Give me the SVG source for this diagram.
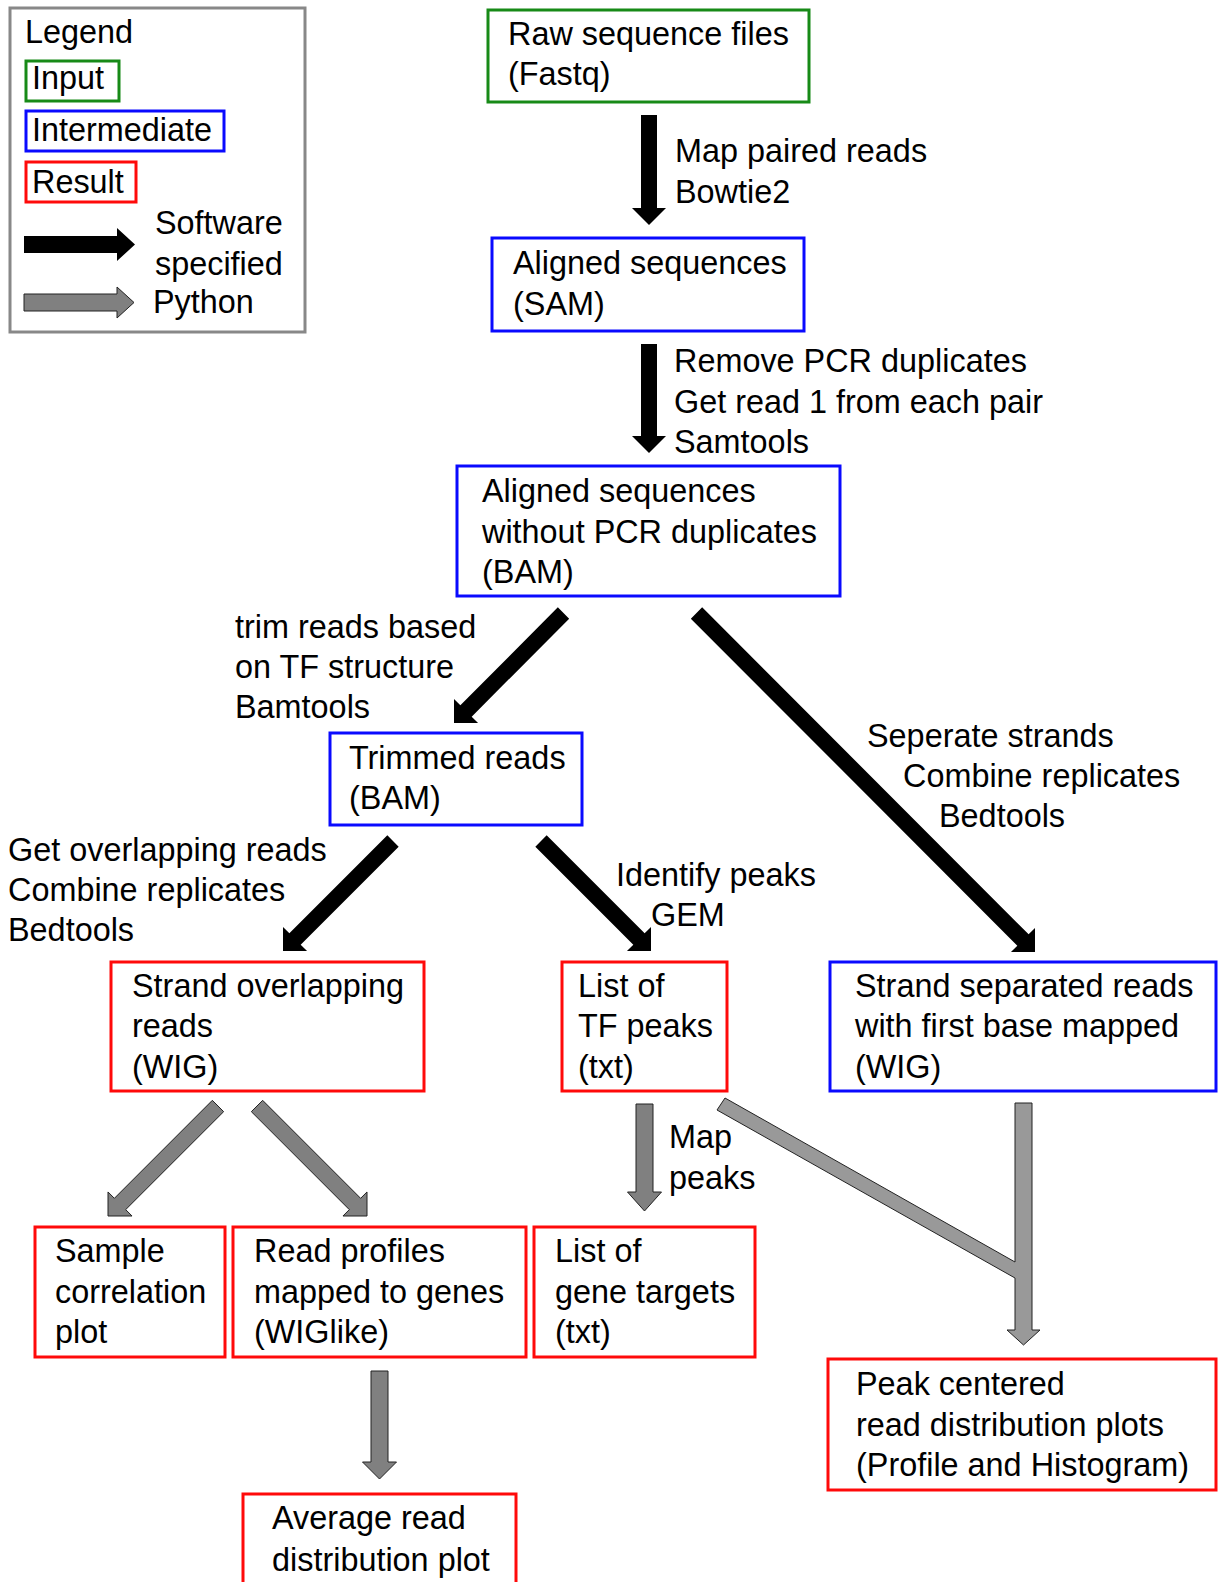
<svg xmlns="http://www.w3.org/2000/svg" width="1219" height="1582" viewBox="0 0 1219 1582">
<style>
text { font-family: "Liberation Sans", Arial, sans-serif; font-size: 32.4px; fill: #000; }
.box { fill: #fff; stroke-width: 3; }
.in { stroke: #178a17; }
.mid { stroke: #0a0aff; }
.res { stroke: #ff0a0a; }
.blk { fill: #000; stroke: none; }
.gry { fill: #808080; stroke: #222; stroke-width: 1; }
.gry2 { fill: #999; stroke: #222; stroke-width: 1; }
</style>
<rect width="1219" height="1582" fill="#fff"/>

<g id="legend">
  <rect x="10" y="8" width="295" height="324" fill="#fff" stroke="#888" stroke-width="3"/>
  <text x="25" y="43">Legend</text>
  <rect class="box in" x="26" y="61" width="93" height="40"/>
  <text x="32" y="89">Input</text>
  <rect class="box mid" x="26" y="111" width="198" height="40"/>
  <text x="32" y="141">Intermediate</text>
  <rect class="box res" x="26" y="162" width="110" height="40"/>
  <text x="32" y="193">Result</text>
  <polygon class="blk" points="24,236 117,236 117,228 135,244.5 117,261 117,253 24,253"/>
  <text x="155" y="234">Software</text>
  <text x="155" y="275">specified</text>
  <polygon class="gry" points="24,294 117,294 117,287 134,302.5 117,318 117,311 24,311"/>
  <text x="153" y="313">Python</text>
</g>

<g id="connectors">
  <polygon class="blk" points="641,115 657,115 657,208 666,208 649,225 632,208 641,208"/>
  <polygon class="blk" points="641,344 657,344 657,436 666,436 649,453 632,436 641,436"/>
  <polygon class="blk" points="557.84,607.34 460.36,705.32 454,698.96 454,723 478.04,723 471.68,716.64 569.16,618.66"/>
  <polygon class="blk" points="690.84,618.66 1017.32,945.64 1010.96,952 1035,952 1035,927.96 1028.64,934.32 702.16,607.34"/>
  <polygon class="blk" points="387.34,835.34 289.36,933.32 283,926.96 283,951 307.04,951 300.68,944.64 398.66,846.66"/>
  <polygon class="blk" points="535.34,846.66 633.32,944.64 626.96,951 651,951 651,926.96 644.64,933.32 546.66,835.34"/>
  <polygon class="gry" points="212.34,1100.34 114.36,1198.32 108,1191.96 108,1216 132.04,1216 125.68,1209.64 223.66,1111.66"/>
  <polygon class="gry" points="251.34,1111.66 349.32,1209.64 342.96,1216 367,1216 367,1191.96 360.64,1198.32 262.66,1100.34"/>
  <polygon class="gry" points="636,1104 653,1104 653,1192 661.5,1192 644.5,1211 627.5,1192 636,1192"/>
  <polygon class="gry" points="371,1371 388,1371 388,1462 396.5,1462 379.5,1479 362.5,1462 371,1462"/>
  <polygon class="gry2" points="1015,1103 1032,1103 1032,1330 1040,1330 1023.5,1345 1007,1330 1015,1330 1015,1278 717,1110 725,1098 1015,1262"/>
  <text x="675" y="162">Map paired reads</text>
  <text x="675" y="203">Bowtie2</text>
  <text x="674" y="372">Remove PCR duplicates</text>
  <text x="674" y="413">Get read 1 from each pair</text>
  <text x="674" y="453">Samtools</text>
  <text x="235" y="638">trim reads based</text>
  <text x="235" y="678">on TF structure</text>
  <text x="235" y="718">Bamtools</text>
  <text x="867" y="747">Seperate strands</text>
  <text x="903" y="787">Combine replicates</text>
  <text x="939" y="827">Bedtools</text>
  <text x="8" y="861">Get overlapping reads</text>
  <text x="8" y="901">Combine replicates</text>
  <text x="8" y="941">Bedtools</text>
  <text x="616" y="886">Identify peaks</text>
  <text x="651" y="926">GEM</text>
  <text x="669" y="1148">Map</text>
  <text x="669" y="1189">peaks</text>
</g>

<g id="raw">
  <rect class="box in" x="488" y="10" width="321" height="92"/>
  <text x="508" y="45">Raw sequence files</text>
  <text x="508" y="85">(Fastq)</text>
</g>
<g id="sam">
  <rect class="box mid" x="492" y="238" width="312" height="93"/>
  <text x="513" y="274">Aligned sequences</text>
  <text x="513" y="315">(SAM)</text>
</g>
<g id="bam">
  <rect class="box mid" x="457" y="466" width="383" height="130"/>
  <text x="482" y="502">Aligned sequences</text>
  <text x="482" y="543">without PCR duplicates</text>
  <text x="482" y="583">(BAM)</text>
</g>
<g id="trimmed">
  <rect class="box mid" x="330" y="733" width="252" height="92"/>
  <text x="349" y="769">Trimmed reads</text>
  <text x="349" y="809">(BAM)</text>
</g>
<g id="overlap">
  <rect class="box res" x="111" y="962" width="313" height="129"/>
  <text x="132" y="997">Strand overlapping</text>
  <text x="132" y="1037">reads</text>
  <text x="132" y="1078">(WIG)</text>
</g>
<g id="peaks">
  <rect class="box res" x="562" y="962" width="165" height="129"/>
  <text x="578" y="997">List of</text>
  <text x="578" y="1037">TF peaks</text>
  <text x="578" y="1078">(txt)</text>
</g>
<g id="separated">
  <rect class="box mid" x="830" y="962" width="386" height="129"/>
  <text x="855" y="997">Strand separated reads</text>
  <text x="855" y="1037">with first base mapped</text>
  <text x="855" y="1078">(WIG)</text>
</g>
<g id="corr">
  <rect class="box res" x="35" y="1227" width="190" height="130"/>
  <text x="55" y="1262">Sample</text>
  <text x="55" y="1303">correlation</text>
  <text x="55" y="1343">plot</text>
</g>
<g id="profiles">
  <rect class="box res" x="233" y="1227" width="293" height="130"/>
  <text x="254" y="1262">Read profiles</text>
  <text x="254" y="1303">mapped to genes</text>
  <text x="254" y="1343">(WIGlike)</text>
</g>
<g id="targets">
  <rect class="box res" x="534" y="1227" width="221" height="130"/>
  <text x="555" y="1262">List of</text>
  <text x="555" y="1303">gene targets</text>
  <text x="555" y="1343">(txt)</text>
</g>
<g id="peakplots">
  <rect class="box res" x="828" y="1359" width="388" height="131"/>
  <text x="856" y="1395">Peak centered</text>
  <text x="856" y="1436">read distribution plots</text>
  <text x="856" y="1476">(Profile and Histogram)</text>
</g>
<g id="average">
  <rect class="box res" x="243" y="1494" width="273" height="110"/>
  <text x="272" y="1529">Average read</text>
  <text x="272" y="1571">distribution plot</text>
</g>
</svg>
